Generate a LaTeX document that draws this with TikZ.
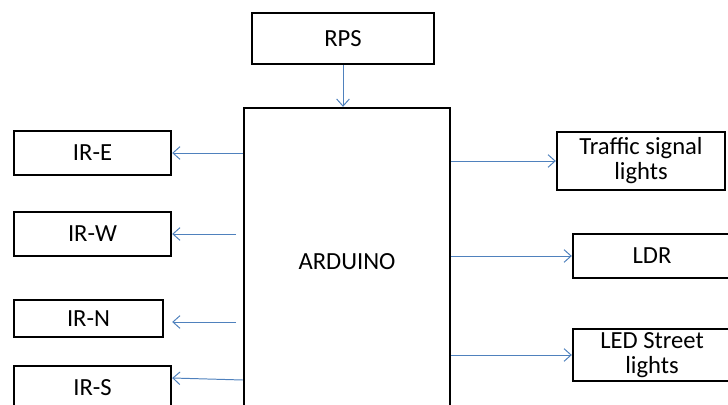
\documentclass[tikz,border=0pt]{standalone}
\usepackage{fontspec}
\setmainfont{Carlito}
\usetikzlibrary{arrows.meta}
\definecolor{linkblue}{RGB}{79,129,189}

\begin{document}
\begin{tikzpicture}[
  x=0.025cm, y=-0.025cm,
  block/.style={draw, line width=1.7pt, align=center, inner sep=0pt,
    font=\fontsize{17.5}{17.8}\selectfont},
  link/.style={-{Straight Barb[length=5pt, width=9pt]}, color=linkblue, line width=0.7pt}
]
  \useasboundingbox (0,0) rectangle (728,405);
  \clip (0,0) rectangle (728,405);

  % Blocks
  \node[block, minimum width=182*0.025cm, minimum height=51*0.025cm] (rps) at (343,38.5) {RPS};
  \node[block, minimum width=206*0.025cm, minimum height=308*0.025cm] (arduino) at (347,262) {ARDUINO};
  \node[block, minimum width=157*0.025cm, minimum height=44*0.025cm] (ire) at (92.5,153) {IR-E};
  \node[block, minimum width=157*0.025cm, minimum height=44*0.025cm] (irw) at (92.5,234) {IR-W};
  \node[block, minimum width=149*0.025cm, minimum height=37*0.025cm] (irn) at (88.5,318.5) {IR-N};
  \node[block, minimum width=157*0.025cm, minimum height=44*0.025cm] (irs) at (92.5,388) {IR-S};
  \node[block, minimum width=168*0.025cm, minimum height=58*0.025cm] (traffic) at (641,161) {Traffic signal\\lights};
  \node[block, minimum width=158*0.025cm, minimum height=44*0.025cm] (ldr) at (652,256) {LDR};
  \node[block, minimum width=158*0.025cm, minimum height=52*0.025cm] (led) at (652,355) {LED Street\\lights};

  % Free ends
  \coordinate (wfree) at (236,234);
  \coordinate (nfree) at (236,322);

  % Links
  \draw[link] (rps) -- (rps |- arduino.north);
  \draw[link] (arduino.west |- ire) -- (ire);
  \draw[link] (wfree) -- (irw);
  \draw[link, shorten >=8*0.025cm] (nfree) -- (nfree -| irn.east);
  \draw[link] (arduino.west |- 0,380) -- (irs.east |- 0,378);
  \draw[link] (arduino.east |- traffic) -- (traffic);
  \draw[link] (arduino.east |- ldr) -- (ldr);
  \draw[link] (arduino.east |- led) -- (led);

\end{tikzpicture}
\end{document}
